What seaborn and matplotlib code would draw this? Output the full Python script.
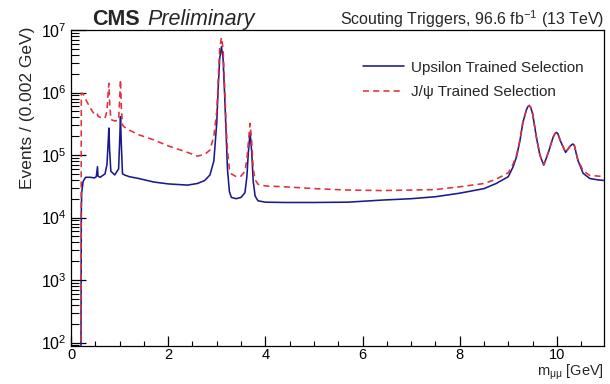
import matplotlib
matplotlib.use("Agg")
import matplotlib.pyplot as plt
import numpy as np
import pandas as pd
import seaborn as sns
from matplotlib.ticker import LogLocator, MultipleLocator, NullFormatter

# ---- data ----
mass = [0.205, 0.212, 0.22, 0.25, 0.30, 0.40, 0.48, 0.52, 0.545, 0.555, 0.60, 0.70,
        0.74, 0.765, 0.78, 0.795, 0.82, 0.90, 0.98, 1.005, 1.019, 1.035, 1.06, 1.10,
        1.20, 1.40, 1.70, 2.00, 2.40, 2.60, 2.75, 2.86, 2.94, 3.00, 3.03, 3.06, 3.097,
        3.13, 3.16, 3.19, 3.22, 3.26, 3.30, 3.40, 3.50, 3.58, 3.62, 3.65, 3.686, 3.72,
        3.75, 3.79, 3.85, 4.00, 4.40, 5.00, 5.70, 6.40, 7.00, 7.50, 8.00, 8.50, 8.75,
        9.00, 9.10, 9.17, 9.24, 9.30, 9.37, 9.40, 9.43, 9.46, 9.50, 9.58, 9.65, 9.73,
        9.82, 9.92, 9.96, 9.99, 10.02, 10.07, 10.18, 10.26, 10.30, 10.33, 10.36, 10.43,
        10.54, 10.68, 10.85, 11.0]

upsilon_trained = [50, 1.2e4, 2.5e4, 3.8e4, 4.4e4, 4.4e4, 4.3e4, 4.5e4, 6.5e4, 4.6e4, 4.4e4, 5.0e4,
                   7e4, 1.6e5, 2.7e5, 1.2e5, 5.5e4, 4.8e4, 6e4, 2e5, 4.1e5, 1.5e5, 5e4, 4.8e4,
                   4.5e4, 4.2e4, 3.7e4, 3.45e4, 3.3e4, 3.5e4, 3.9e4, 4.8e4, 8e4, 3.3e5, 1.2e6, 3.5e6, 5.4e6,
                   3.5e6, 1.0e6, 2.5e5, 6e4, 2.6e4, 2.1e4, 2.0e4, 2.1e4, 2.5e4, 4.5e4, 1.1e5, 2.3e5, 1.1e5,
                   3.8e4, 2.2e4, 1.85e4, 1.76e4, 1.74e4, 1.74e4, 1.76e4, 1.9e4, 2.0e4, 2.15e4, 2.45e4, 2.9e4, 3.5e4,
                   4.5e4, 6.5e4, 9.4e4, 1.7e5, 3.3e5, 5.2e5, 5.9e5, 6.2e5, 5.8e5, 4.6e5, 1.9e5, 1.0e5, 6.9e4,
                   1.07e5, 1.9e5, 2.2e5, 2.3e5, 2.2e5, 1.7e5, 1.1e5, 1.35e5, 1.45e5, 1.5e5, 1.42e5, 8.3e4,
                   5.1e4, 4.2e4, 4.0e4, 3.9e4]

jpsi_trained = [50, 9.0e5, 9.8e5, 9.5e5, 7.8e5, 5.6e5, 4.5e5, 4.3e5, 4.5e5, 4.2e5, 4.0e5, 3.9e5,
                5e5, 1.0e6, 1.4e6, 7e5, 3.7e5, 3.5e5, 3.6e5, 9e5, 1.6e6, 6e5, 3.0e5, 2.8e5,
                2.5e5, 2.1e5, 1.75e5, 1.4e5, 1.1e5, 9.6e4, 1.02e5, 1.2e5, 2.0e5, 5e5, 1.6e6, 5e6, 7.6e6,
                5e6, 1.4e6, 3.5e5, 1.2e5, 6e4, 5e4, 4.5e4, 4.6e4, 5.5e4, 8.5e4, 1.6e5, 3.2e5, 1.6e5,
                6e4, 4e4, 3.4e4, 3.2e4, 3.1e4, 2.9e4, 2.75e4, 2.7e4, 2.75e4, 2.8e4, 3.1e4, 3.5e4, 4.1e4,
                5.2e4, 7.2e4, 1.0e5, 1.75e5, 3.3e5, 5.2e5, 5.9e5, 6.2e5, 5.8e5, 4.6e5, 1.9e5, 1.0e5, 7.0e4,
                1.08e5, 1.9e5, 2.2e5, 2.3e5, 2.2e5, 1.7e5, 1.1e5, 1.35e5, 1.45e5, 1.5e5, 1.42e5, 8.6e4,
                5.6e4, 4.7e4, 4.6e4, 4.5e4]

labels = ["Upsilon Trained Selection", "J/\u03c8 Trained Selection"]
colors = {labels[0]: "#1a1a8c", labels[1]: "#e0303a"}

n = len(mass)
df = pd.DataFrame({
    "mass": mass + mass,
    "events": upsilon_trained + jpsi_trained,
    "selection": [labels[0]] * n + [labels[1]] * n,
})

sns.set_theme(style="white")
plt.rcParams["font.family"] = ["Liberation Sans", "DejaVu Sans"]
plt.rcParams["mathtext.fontset"] = "custom"
plt.rcParams["mathtext.rm"] = "Liberation Sans"
plt.rcParams["mathtext.it"] = "Liberation Sans:italic"
plt.rcParams["mathtext.bf"] = "Liberation Sans:bold"

W, H = 610, 384
fig = plt.figure(figsize=(W / 100, H / 100), dpi=100)
L, R, T, B = 71, 604, 30, 346
ax = fig.add_axes([L / W, 1 - B / H, (R - L) / W, (B - T) / H])

sns.lineplot(data=df, x="mass", y="events", hue="selection", style="selection",
             palette=colors, dashes={labels[0]: "", labels[1]: (3.8, 2.6)},
             linewidth=1.15, sort=False, estimator=None, ax=ax)

ax.set_yscale("log")
ax.set_ylim(88, 1e7)
ax.set_xlim(0, 10.97)

ax.xaxis.set_major_locator(MultipleLocator(2))
ax.xaxis.set_minor_locator(MultipleLocator(0.5))
ax.yaxis.set_major_locator(LogLocator(base=10, numticks=20))
ax.yaxis.set_minor_locator(LogLocator(base=10, subs=np.arange(2, 10), numticks=20))
ax.yaxis.set_minor_formatter(NullFormatter())

ax.tick_params(axis="both", which="both", direction="in", top=False, right=False,
               bottom=True, left=True, colors="black")
ax.tick_params(axis="y", which="major", length=11, width=0.9, pad=3, labelsize=11.5)
ax.tick_params(axis="y", which="minor", length=6, width=0.8)
ax.tick_params(axis="x", which="major", length=7.5, width=0.9, pad=1.2, labelsize=10.5)
ax.tick_params(axis="x", which="minor", length=3.8, width=0.8)

for s in ax.spines.values():
    s.set_color("black")
    s.set_linewidth(0.9)

ax.set_xlabel(r"m$_{\mathrm{\mu\mu}}$ [GeV]", fontsize=10.5, loc="right")
ax.xaxis.label.set_va("bottom")
ax.xaxis.set_label_coords(1.0, -(382.5 - B) / (B - T))
ax.set_ylabel("Events / (0.002 GeV)", fontsize=12.5, loc="top")
ax.yaxis.set_label_coords(-0.068, 1.01)

handles, lbls = ax.get_legend_handles_labels()
ax.legend(handles, lbls, loc="upper left", bbox_to_anchor=(355 / W, 1 - 53 / H),
          bbox_transform=fig.transFigure, frameon=False, fontsize=11,
          handlelength=2.7, handletextpad=0.45, labelspacing=0.7, borderpad=0)

fig.text(92 / W, 1 - 25 / H, "CMS", fontsize=15.5, fontweight="bold", va="baseline", ha="left")
fig.text(147 / W, 1 - 25 / H, "Preliminary", fontsize=15.5, fontstyle="italic", va="baseline", ha="left")
fig.text(604 / W, 1 - 25 / H, r"Scouting Triggers, 96.6 fb$^{-1}$ (13 TeV)", fontsize=11.5,
         va="baseline", ha="right")

fig.savefig("out.png", dpi=100)
